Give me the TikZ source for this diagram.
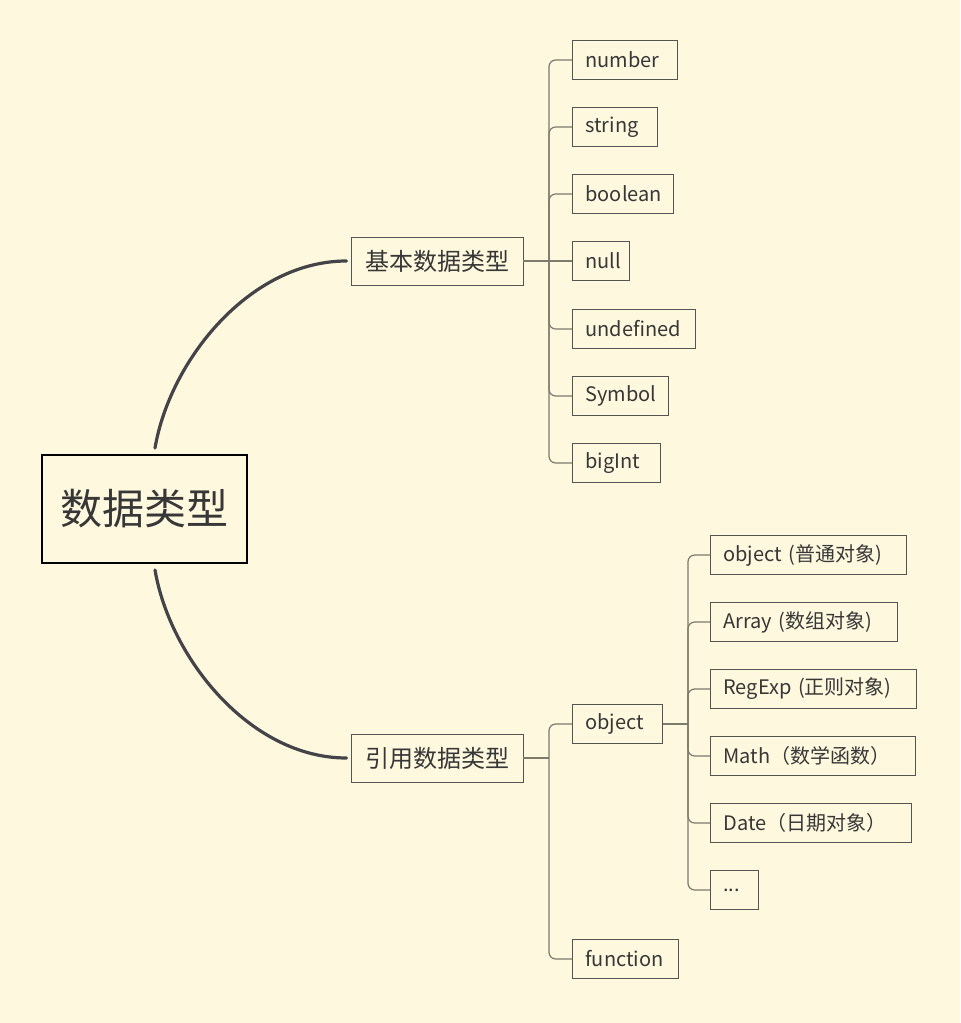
\documentclass[tikz,border=0pt]{standalone}
\usepackage{fontspec}
\setmainfont{Noto Sans CJK SC}
\usetikzlibrary{calc}
\definecolor{bg}{RGB}{253,248,222}
\definecolor{ink}{RGB}{55,55,55}
\definecolor{boxc}{RGB}{85,85,80}
\definecolor{wire}{RGB}{125,122,110}
\definecolor{curvec}{RGB}{68,68,72}
\tikzset{
  leaf/.style={draw=boxc, line width=0.6pt, anchor=west, minimum height=29.25pt,
    inner xsep=9.75pt, inner ysep=0pt, text=ink, font=\fontsize{15}{18}\selectfont,
    text width=(#1-26)*0.75pt, align=left},
  mid/.style={draw=boxc, line width=0.7pt, minimum width=129pt, minimum height=36pt,
    inner sep=0pt, text=ink, font=\fontsize{18}{22}\selectfont},
  rootbox/.style={draw=black, line width=1.5pt, minimum width=153.75pt, minimum height=81pt,
    inner sep=0pt, text=ink, font=\fontsize{31.5}{36}\selectfont},
  wireline/.style={draw=wire, line width=0.9pt, rounded corners=5pt},
  curveline/.style={draw=curvec, line width=2.4pt, line cap=round}
}
\begin{document}
\begin{tikzpicture}[x=0.75pt,y=-0.75pt]
\fill[bg] (0,0) rectangle (960,1023);
\useasboundingbox (0,0) rectangle (960,1023);

% root and mid nodes
\node[rootbox] (root) at (144,509) {数据类型};
\node[mid] (basic) at (437,261) {基本数据类型};
\node[mid] (ref) at (437,758) {引用数据类型};

% basic leaves
\node[leaf=105] (b1) at (572,60) {number};
\node[leaf=85]  (b2) at (572,127) {string};
\node[leaf=101] (b3) at (572,194) {boolean};
\node[leaf=57]  (b4) at (572,261) {null};
\node[leaf=123] (b5) at (572,329) {undefined};
\node[leaf=96]  (b6) at (572,396) {Symbol};
\node[leaf=88]  (b7) at (572,463) {bigInt};

% reference leaves
\node[leaf=90]  (o) at (572,724) {object};
\node[leaf=106] (f) at (572,959) {function};

% object children
\node[leaf=196] (c1) at (710,555) {object (普通对象)};
\node[leaf=187] (c2) at (710,622) {Array (数组对象)};
\node[leaf=206] (c3) at (710,689) {RegExp (正则对象)};
\node[leaf=205] (c4) at (710,756) {Math（数学函数）};
\node[leaf=201] (c5) at (710,823) {Date（日期对象）};
\node[leaf=48]  (c6) at (710,890) {...};

% curves from root
\draw[curveline] ([xshift=8.25pt,yshift=4.5pt]root.north)
  .. controls (170,360) and (250,261) .. ([xshift=-3pt]basic.west);
\draw[curveline] ([xshift=8.25pt,yshift=-4.5pt]root.south)
  .. controls (170,658) and (250,758) .. ([xshift=-3pt]ref.west);

% basic connectors
\coordinate (bj) at (549,261);
\draw[wireline] (basic.east) -- (bj);
\foreach \n in {b1,b2,b3,b5,b6,b7} \draw[wireline] (bj) |- (\n.west);
\draw[wireline] (bj) -- (b4.west);

% reference connectors
\coordinate (rj) at (549,758);
\draw[wireline] (ref.east) -- (rj);
\draw[wireline] (rj) |- (o.west);
\draw[wireline] (rj) |- (f.west);

% object connectors
\coordinate (oj) at (688,724);
\draw[wireline] (o.east) -- (oj);
\foreach \n in {c1,c2,c3,c4,c5,c6} \draw[wireline] (oj) |- (\n.west);
\end{tikzpicture}
\end{document}
